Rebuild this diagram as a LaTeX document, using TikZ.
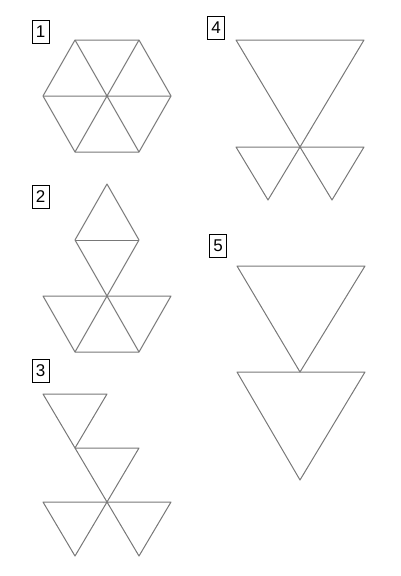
\documentclass[tikz,border=0pt]{standalone}
\usepackage{fontspec}
\setmainfont{Liberation Sans}
\definecolor{edge}{RGB}{120,120,120}
\begin{document}
\begin{tikzpicture}[x=1pt,y=-1pt,
  tri/.style={draw=edge,line width=1pt,line join=round},
  lbl/.style={draw=black,line width=0.9pt,minimum width=17pt,minimum height=23pt,inner sep=0pt,font=\fontsize{17}{17}\selectfont}]
\useasboundingbox (0,0) rectangle (400,576);
% labels
\node[lbl] (l1) at (40.5,31.5) {1};
\node[lbl] (l2) at (40.5,196.5) {2};
\node[lbl] (l3) at (40.5,370.5) {3};
\node[lbl] (l4) at (216,28) {4};
\node[lbl] (l5) at (218,246) {5};
% figure 1: hexagon
\coordinate (h0) at (107,96);
\coordinate (h1) at (75,40);
\coordinate (h2) at (139,40);
\coordinate (h3) at (171,96);
\coordinate (h4) at (139,152);
\coordinate (h5) at (75,152);
\coordinate (h6) at (43,96);
\draw[tri] (h1) -- (h2) -- (h3) -- (h4) -- (h5) -- (h6) -- cycle;
\draw[tri] (h1) -- (h4) (h2) -- (h5) (h3) -- (h6);
% figure 2
\coordinate (a0) at (107,184);
\coordinate (a1) at (75,240);
\coordinate (a2) at (139,240);
\coordinate (a3) at (107,296);
\coordinate (a4) at (43,296);
\coordinate (a5) at (171,296);
\coordinate (a6) at (75,352);
\coordinate (a7) at (139,352);
\draw[tri] (a0) -- (a2) -- (a3) -- (a1) -- cycle;
\draw[tri] (a1) -- (a2);
\draw[tri] (a4) -- (a5) -- (a7) -- (a6) -- cycle;
\draw[tri] (a3) -- (a6) (a3) -- (a7);
% figure 3
\coordinate (b1) at (43,394);
\coordinate (b2) at (107,394);
\coordinate (b3) at (75,448);
\coordinate (b4) at (139,448);
\coordinate (b5) at (107,502);
\coordinate (b6) at (43,502);
\coordinate (b7) at (171,502);
\coordinate (b8) at (75,556);
\coordinate (b9) at (139,556);
\draw[tri] (b1) -- (b2) -- (b3) -- cycle;
\draw[tri] (b3) -- (b4) -- (b5) -- cycle;
\draw[tri] (b6) -- (b5) -- (b8) -- cycle;
\draw[tri] (b5) -- (b7) -- (b9) -- cycle;
% figure 4
\coordinate (c1) at (236,40);
\coordinate (c2) at (364,40);
\coordinate (c3) at (300,147);
\coordinate (c4) at (236,147);
\coordinate (c5) at (364,147);
\coordinate (c6) at (268,200);
\coordinate (c7) at (332,200);
\draw[tri] (c1) -- (c2) -- (c3) -- cycle;
\draw[tri] (c4) -- (c3) -- (c6) -- cycle;
\draw[tri] (c3) -- (c5) -- (c7) -- cycle;
% figure 5
\coordinate (d1) at (237,266);
\coordinate (d2) at (365,266);
\coordinate (d3) at (300,372);
\coordinate (d4) at (237,372);
\coordinate (d5) at (365,372);
\coordinate (d6) at (300,480);
\draw[tri] (d1) -- (d2) -- (d3) -- cycle;
\draw[tri] (d4) -- (d5) -- (d6) -- cycle;
\end{tikzpicture}
\end{document}
